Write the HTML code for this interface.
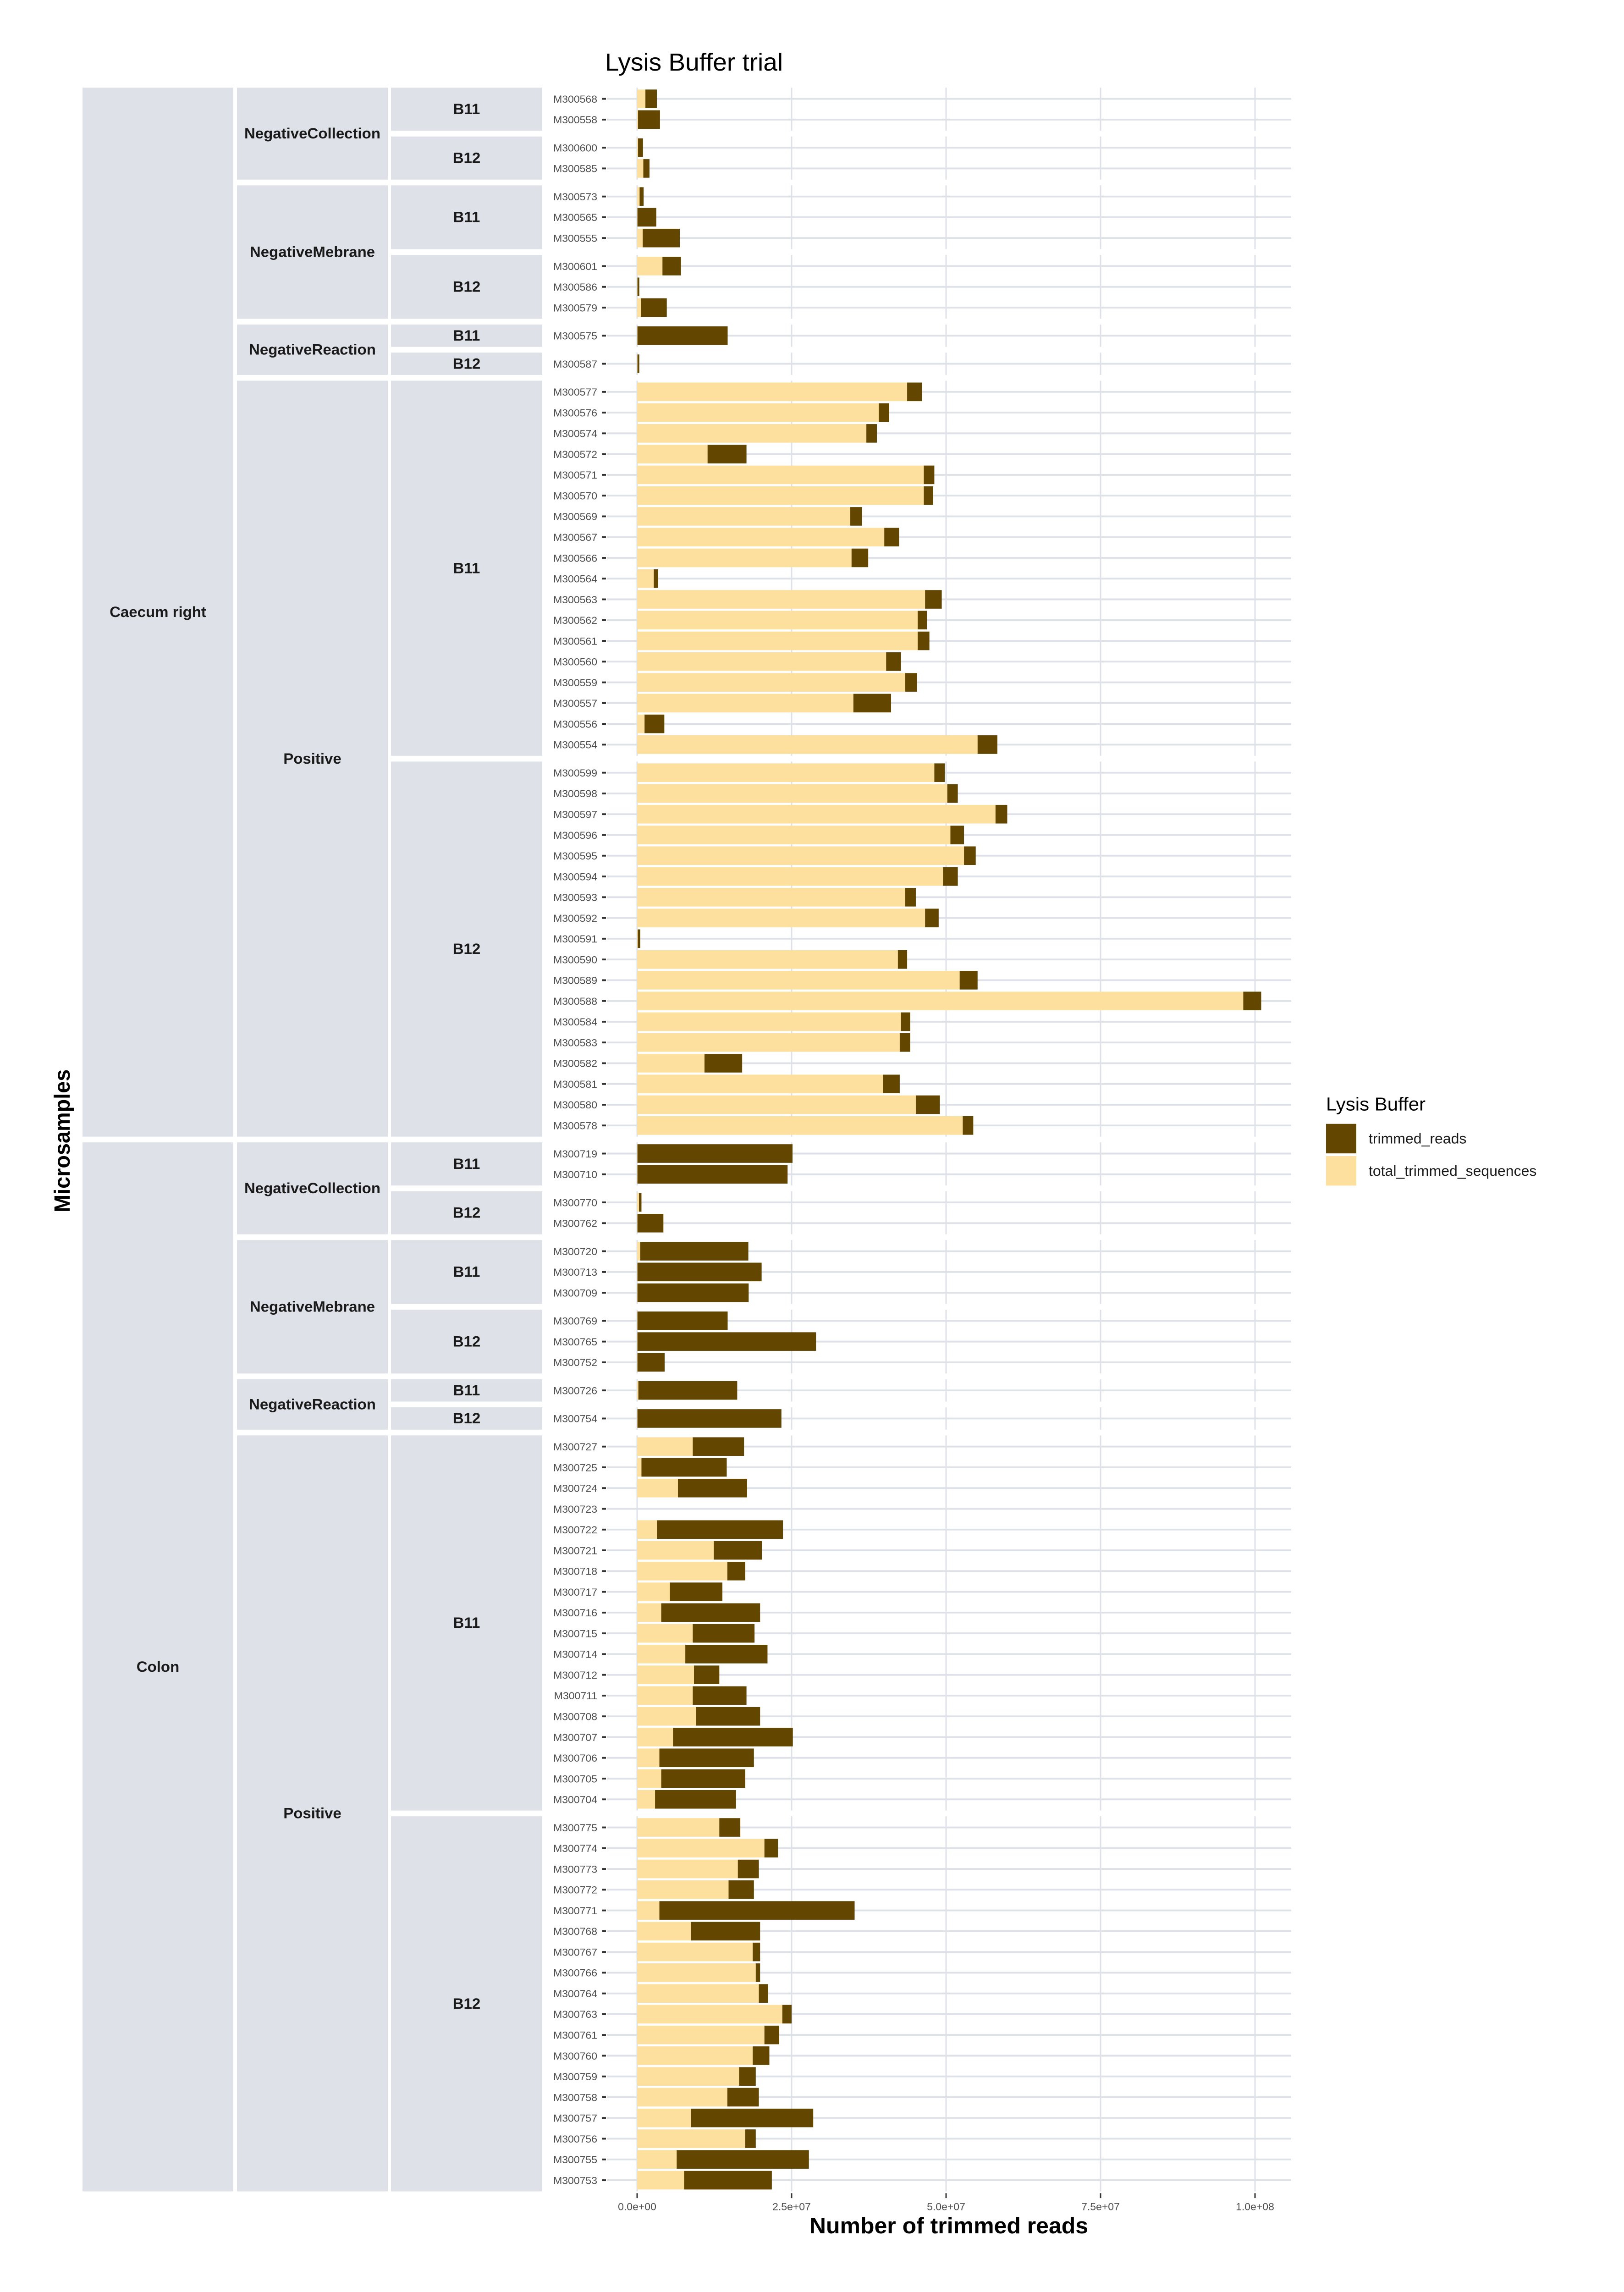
<!DOCTYPE html>
<html><head><meta charset="utf-8">
<style>
html,body{margin:0;padding:0;background:#fff;width:100vw;height:100vh;overflow:hidden;}
svg{display:block;width:100vw;height:100vh;}
text{font-family:"Liberation Sans",sans-serif;}
</style></head>
<body>
<svg id="chart" xmlns="http://www.w3.org/2000/svg" viewBox="0 0 3543 5125" preserveAspectRatio="none">
<rect x="0" y="0" width="3543" height="5125" fill="#fff"/>
<text x="1514" y="158" font-size="55" text-anchor="middle" fill="#000">Lysis Buffer trial</text>
<text transform="translate(152,2551) rotate(-90)" font-size="48" font-weight="bold" text-anchor="middle" fill="#000">Microsamples</text>
<text x="2070" y="4994" font-size="50" font-weight="bold" text-anchor="middle" fill="#000">Number of trimmed reads</text>
<g>
<text x="2893" y="2483" font-size="42" fill="#000">Lysis Buffer</text>
<rect x="2893" y="2513" width="66" height="66" fill="#634600"/>
<text x="2986" y="2557" font-size="32" fill="#1a1a1a">trimmed_reads</text>
<rect x="2893" y="2585" width="66" height="66" fill="#FDDF9E"/>
<text x="2986" y="2629" font-size="32" fill="#1a1a1a">total_trimmed_sequences</text>
</g>
<g id="plot"></g>
</svg>
<script>
// Panel structure
const panelSites = ["Caecum right","Caecum right","Caecum right","Caecum right","Caecum right","Caecum right","Caecum right","Caecum right","Colon","Colon","Colon","Colon","Colon","Colon","Colon","Colon"];
const panelTypes = ["NegativeCollection","NegativeCollection","NegativeMebrane","NegativeMebrane","NegativeReaction","NegativeReaction","Positive","Positive","NegativeCollection","NegativeCollection","NegativeMebrane","NegativeMebrane","NegativeReaction","NegativeReaction","Positive","Positive"];
const panelBatches = ["B11","B12","B11","B12","B11","B12","B11","B12","B11","B12","B11","B12","B11","B12","B11","B12"];
const panelCounts = [2,2,3,3,1,1,18,18,2,2,3,3,1,1,18,18];
// Samples in plotting order (top to bottom)
const samples = ["M300568","M300558","M300600","M300585","M300573","M300565","M300555","M300601","M300586","M300579","M300575","M300587",
"M300577","M300576","M300574","M300572","M300571","M300570","M300569","M300567","M300566","M300564","M300563","M300562","M300561","M300560","M300559","M300557","M300556","M300554",
"M300599","M300598","M300597","M300596","M300595","M300594","M300593","M300592","M300591","M300590","M300589","M300588","M300584","M300583","M300582","M300581","M300580","M300578",
"M300719","M300710","M300770","M300762","M300720","M300713","M300709","M300769","M300765","M300752","M300726","M300754",
"M300727","M300725","M300724","M300723","M300722","M300721","M300718","M300717","M300716","M300715","M300714","M300712","M300711","M300708","M300707","M300706","M300705","M300704",
"M300775","M300774","M300773","M300772","M300771","M300768","M300767","M300766","M300764","M300763","M300761","M300760","M300759","M300758","M300757","M300756","M300755","M300753"];
// total_trimmed_sequences (millions)
const totalSeq = [1.34,0.15,0.15,1.0,0.4,0.05,0.9,4.1,0.05,0.6,0.05,0.05,
43.7,39.1,37.1,11.4,46.4,46.4,34.5,40.0,34.7,2.7,46.6,45.4,45.4,40.3,43.4,35.0,1.2,55.1,
48.1,50.2,58.0,50.7,52.9,49.5,43.4,46.6,0.1,42.2,52.2,98.1,42.7,42.5,10.9,39.8,45.1,52.7,
0.05,0.05,0.3,0.05,0.5,0.05,0.05,0.05,0.05,0.05,0.2,0.05,
9.0,0.7,6.6,0,3.2,12.4,14.6,5.3,3.9,9.0,7.8,9.2,9.0,9.5,5.8,3.6,3.9,2.9,
13.3,20.6,16.3,14.8,3.6,8.7,18.7,19.2,19.7,23.5,20.6,18.7,16.5,14.6,8.7,17.5,6.4,7.6];
// trimmed_reads (millions)
const trimmedReads = [1.85,3.55,0.8,1.0,0.65,3.05,6.0,3.0,0.3,4.2,14.6,0.3,
2.4,1.7,1.7,6.3,1.7,1.5,1.9,2.4,2.7,0.7,2.7,1.5,1.9,2.4,1.9,6.1,3.2,3.2,
1.7,1.7,1.9,2.2,1.9,2.4,1.7,2.2,0.4,1.5,2.9,2.9,1.5,1.7,6.1,2.7,3.9,1.7,
25.1,24.3,0.4,4.2,17.5,20.1,18.0,14.6,28.9,4.4,16.0,23.3,
8.3,13.8,11.2,0,20.4,7.8,2.9,8.5,16.0,10.0,13.3,4.1,8.7,10.4,19.4,15.3,13.6,13.1,
3.4,2.2,3.4,4.1,31.6,11.2,1.2,0.7,1.5,1.5,2.4,2.7,2.7,5.1,19.8,1.7,21.4,14.2];
const xTicks = [0,25,50,75,100];
const xTickLabels = ["0.0e+00","2.5e+07","5.0e+07","7.5e+07","1.0e+08"];

const NS="http://www.w3.org/2000/svg";
const plot=document.getElementById('plot');
const PX0=1324, PX1=2817, ZERO=1390, PXPERM=337/25;
const TOP=196, ROWH=46.4, PAD=25, GAP=12.8, BARH=41.6;
const STRIP="#DEE2E8", GRID="#DEE2E8";
function xScale(v){return ZERO+v*PXPERM;}
function mk(tag,attrs,parent){const e=document.createElementNS(NS,tag);for(const k in attrs)e.setAttribute(k,attrs[k]);(parent||plot).appendChild(e);return e;}

const panels=[];let cur=TOP;
for(let p=0;p<panelCounts.length;p++){
  const h=2*PAD+(panelCounts[p]-1)*ROWH;
  panels.push({top:cur,bottom:cur+h});
  cur+=h+GAP;
}
function rowY(p,i){return panels[p].top+PAD+i*ROWH;}

let s=0;
for(let p=0;p<panels.length;p++){
  const pan=panels[p];
  for(const t of xTicks){
    const l=mk('line',{x1:xScale(t),x2:xScale(t),y1:pan.top,y2:pan.bottom,stroke:GRID,'stroke-width':3});
    
    
  }
  for(let i=0;i<panelCounts[p];i++,s++){
    const y=rowY(p,i);
    const g=mk('line',{x1:PX0,x2:PX1,y1:y,y2:y,stroke:GRID,'stroke-width':4});
    
    
    const tk=mk('line',{x1:1313,x2:1322,y1:y,y2:y,stroke:'#333','stroke-width':4});
    
    
    const lb=mk('text',{x:1303,y:y+8.5,'font-size':23,'text-anchor':'end',fill:'#4d4d4d'});
    lb.textContent=samples[s];
    
    
    const a=totalSeq[s], b=trimmedReads[s];
    if(a>0){
      const r1=mk('rect',{x:xScale(0),y:y-BARH/2,width:xScale(a)-xScale(0),height:BARH,fill:'#FDDF9E'});
      
      
    }
    if(b>0){
      const r2=mk('rect',{x:xScale(a),y:y-BARH/2,width:xScale(a+b)-xScale(a),height:BARH,fill:'#634600'});
      
      
    }
  }
}
const lastB=panels[panels.length-1].bottom;
for(let i=0;i<xTicks.length;i++){
  const x=xScale(xTicks[i]);
  const t=mk('line',{x1:x,x2:x,y1:lastB+4,y2:lastB+15,stroke:'#333','stroke-width':3});
  
  
  const l=mk('text',{x:x,y:lastB+42,'font-size':23,'text-anchor':'middle',fill:'#4d4d4d'});
  l.textContent=xTickLabels[i];
  
  
}
function strip(x0,x1,y0,y1,label,size){
  const r=mk('rect',{x:x0,y:y0,width:x1-x0,height:y1-y0,fill:STRIP});
  
  
  const t=mk('text',{x:(x0+x1)/2,y:(y0+y1)/2+11,'font-size':size,'font-weight':'bold','text-anchor':'middle',fill:'#1a1a1a'});
  t.textContent=label;
  
  
}
for(let p=0;p<panels.length;p++) strip(853,1183,panels[p].top,panels[p].bottom,panelBatches[p],33);
for(let p=0;p<panels.length;p+=2) strip(517,846,panels[p].top,panels[p+1].bottom,panelTypes[p],33);
strip(180,509,panels[0].top,panels[7].bottom,panelSites[0],33);
strip(180,509,panels[8].top,panels[15].bottom,panelSites[8],33);
</script>
</body></html>
